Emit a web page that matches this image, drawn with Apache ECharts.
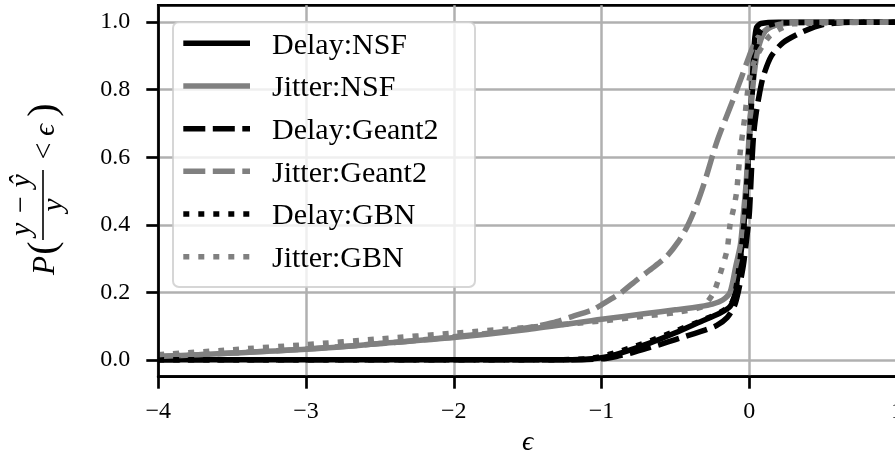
<!DOCTYPE html>
<html>
<head>
<meta charset="utf-8">
<script src="https://cdn.jsdelivr.net/npm/echarts@6/dist/echarts.min.js"></script>
<style>
  html, body { margin: 0; padding: 0; background: #ffffff; }
  #chart { width: 895px; height: 457px; }
</style>
</head>
<body>
<div id="chart"></div>
<script>
// Empirical CDF of the relative prediction error, one pair of arrays per curve.
const seriesNames = ['Delay:NSF', 'Jitter:NSF', 'Delay:Geant2', 'Jitter:Geant2', 'Delay:GBN', 'Jitter:GBN'];

const epsDelayNSF = [-4, -1.3, -1.1, -1.0, -0.9, -0.8, -0.67, -0.5, -0.33, -0.2, -0.13, -0.1, -0.07, -0.04, -0.02, 0, 0.02, 0.035, 0.05, 0.08, 0.2, 1];
const cdfDelayNSF = [0, 0, 0.002, 0.006, 0.016, 0.03, 0.05, 0.08, 0.113, 0.138, 0.158, 0.19, 0.27, 0.38, 0.5, 0.65, 0.82, 0.94, 0.985, 0.996, 1, 1];

const epsJitterNSF = [-4, -3.5, -3, -2.5, -2, -1.5, -1, -0.7, -0.5, -0.33, -0.25, -0.18, -0.13, -0.09, -0.06, -0.04, -0.02, 0, 0.02, 0.05, 0.08, 0.12, 0.2, 0.35, 1];
const cdfJitterNSF = [0.01, 0.02, 0.031, 0.048, 0.066, 0.09, 0.12, 0.137, 0.148, 0.158, 0.165, 0.177, 0.2, 0.28, 0.34, 0.43, 0.53, 0.67, 0.79, 0.9, 0.95, 0.978, 0.993, 0.999, 1];

const epsDelayGeant2 = [-4, -1.2, -1.0, -0.9, -0.8, -0.7, -0.6, -0.5, -0.4, -0.3, -0.22, -0.15, -0.1, -0.07, -0.04, -0.02, 0, 0.015, 0.03, 0.05, 0.07, 0.095, 0.15, 0.23, 0.37, 0.5, 0.7, 1];
const cdfDelayGeant2 = [0, 0, 0.003, 0.01, 0.02, 0.033, 0.046, 0.06, 0.074, 0.088, 0.102, 0.125, 0.16, 0.21, 0.28, 0.35, 0.43, 0.56, 0.67, 0.74, 0.79, 0.84, 0.9, 0.94, 0.973, 0.993, 1, 1];

const epsJitterGeant2 = [-4, -3.5, -3, -2.5, -2, -1.7, -1.5, -1.33, -1.2, -1.06, -1, -0.87, -0.76, -0.66, -0.56, -0.48, -0.42, -0.36, -0.3, -0.22, -0.11, -0.05, 0, 0.05, 0.12, 0.2, 0.3, 1];
const cdfJitterGeant2 = [0.01, 0.02, 0.032, 0.048, 0.068, 0.082, 0.095, 0.11, 0.128, 0.148, 0.163, 0.198, 0.237, 0.27, 0.306, 0.35, 0.395, 0.455, 0.53, 0.645, 0.77, 0.84, 0.9, 0.95, 0.98, 0.995, 1, 1];

const epsDelayGBN = [-4, -1.3, -1.1, -1.0, -0.9, -0.8, -0.67, -0.5, -0.33, -0.2, -0.13, -0.1, -0.07, -0.04, -0.02, 0, 0.02, 0.04, 0.07, 0.1, 0.2, 1];
const cdfDelayGBN = [0, 0, 0.003, 0.01, 0.022, 0.036, 0.056, 0.085, 0.115, 0.14, 0.16, 0.19, 0.27, 0.38, 0.5, 0.64, 0.79, 0.9, 0.97, 0.985, 0.998, 1];

const epsJitterGBN = [-4, -3.5, -3, -2.5, -2, -1.5, -1, -0.7, -0.5, -0.33, -0.29, -0.24, -0.2, -0.15, -0.13, -0.1, -0.085, -0.06, -0.03, 0, 0.04, 0.09, 0.14, 0.2, 0.3, 1];
const cdfJitterGBN = [0.015, 0.03, 0.045, 0.062, 0.079, 0.096, 0.115, 0.13, 0.14, 0.155, 0.168, 0.2, 0.25, 0.326, 0.4, 0.46, 0.5, 0.62, 0.72, 0.83, 0.89, 0.93, 0.96, 0.978, 0.995, 1];

const epsValues = [epsDelayNSF, epsJitterNSF, epsDelayGeant2, epsJitterGeant2, epsDelayGBN, epsJitterGBN];
const cdfValues = [cdfDelayNSF, cdfJitterNSF, cdfDelayGeant2, cdfJitterGeant2, cdfDelayGBN, cdfJitterGBN];

// Axis ranges and tick steps
const xMin = -4, xMax = 1, xStep = 1;
const yTickMin = 0, yTickMax = 1, yTickStep = 0.2;
const yMin = -0.05, yMax = 1.05;

// Styles
const SERIF = '"Liberation Serif", "DejaVu Serif", serif';
const lineColors = ['#000000', '#808080', '#000000', '#808080', '#000000', '#808080'];
const lineDashes = ['solid', 'solid', [22, 7.5], [22, 7.5], [6, 9], [6, 9]];
const LINE_W = 5.5;
const SPINE_W = 2.7;
const GRID_COLOR = '#b0b0b0';

// Plot-area placement (px)
const W = 895, H = 457;
const GRID_LEFT = 158.3, GRID_TOP = 5.3, GRID_BOTTOM = 80.3, GRID_RIGHT = -2;
const pxPerY = (H - GRID_TOP - GRID_BOTTOM) / (yMax - yMin);
const tickGridTop = GRID_TOP + (yMax - yTickMax) * pxPerY;
const tickGridBottom = GRID_BOTTOM + (yTickMin - yMin) * pxPerY;

const minusFmt = v => String(v).replace('-', '\u2212');

const series = seriesNames.map((name, i) => ({
  name: name,
  type: 'line',
  xAxisIndex: 0,
  yAxisIndex: 0,
  data: epsValues[i].map((e, k) => [e, cdfValues[i][k]]),
  showSymbol: false,
  symbol: 'none',
  smooth: 0.25,
  lineStyle: {
    color: lineColors[i],
    width: LINE_W,
    type: lineDashes[i],
    cap: 'butt',
    join: 'round'
  },
  z: 2,
  animation: false
}));

// Legend box drawn as graphic elements
const LEG_X = 173, LEG_Y = 22, LEG_W = 302, LEG_H = 265;
const LEG_ROW0 = 43.3, LEG_ROW_STEP = 42.68;
const LEG_Z = 20;
const legendChildren = [{
  type: 'rect',
  z: LEG_Z,
  shape: { x: LEG_X, y: LEG_Y, width: LEG_W, height: LEG_H, r: 6 },
  style: { fill: 'rgba(255,255,255,0.8)', stroke: 'rgba(204,204,204,0.8)', lineWidth: 2 }
}];
seriesNames.forEach((name, i) => {
  const ry = LEG_ROW0 + i * LEG_ROW_STEP;
  legendChildren.push({
    type: 'line',
    z: LEG_Z + 1,
    shape: { x1: 183.3, y1: ry, x2: 250, y2: ry },
    style: {
      stroke: lineColors[i],
      lineWidth: LINE_W,
      lineDash: lineDashes[i] === 'solid' ? null : lineDashes[i],
      lineCap: 'butt'
    }
  });
  legendChildren.push({
    type: 'text',
    z: LEG_Z + 1,
    x: 272,
    y: ry + 2.5,
    style: {
      text: name,
      font: '30px ' + SERIF,
      fill: '#000',
      textAlign: 'left',
      textVerticalAlign: 'middle'
    }
  });
});

// Rotated y-axis title: P((y - ŷ)/y < ϵ)
const mathFont = s => 'italic ' + s + 'px ' + SERIF;
const romanFont = s => s + 'px ' + SERIF;
const tx = (x, y, text, font, align) => ({
  type: 'text', x: x, y: y, z: LEG_Z,
  style: { text: text, font: font, fill: '#000', textAlign: align || 'center', textVerticalAlign: 'middle' }
});
const yTitle = {
  type: 'group',
  x: 45,
  y: 190,
  rotation: Math.PI / 2,
  children: [
    tx(-66, 0.8, 'P', mathFont(31), 'right'),
    tx(-58, -1, '(', romanFont(40)),
    { type: 'rect', z: LEG_Z, shape: { x: -50, y: -2.8, width: 70, height: 1.6 }, style: { fill: '#000' } },
    tx(-15, -22.5, 'y \u2212 \u0177', mathFont(30)),
    tx(-15, 9.5, 'y', mathFont(30)),
    tx(39, 0, '<', romanFont(30)),
    tx(60, 0.8, '\u03f5', mathFont(30)),
    tx(80, -1, ')', romanFont(40))
  ]
};

const option = {
  animation: false,
  backgroundColor: '#ffffff',
  grid: [
    {
      left: GRID_LEFT, right: GRID_RIGHT, top: GRID_TOP, bottom: GRID_BOTTOM,
      show: true, borderColor: '#000', borderWidth: SPINE_W, backgroundColor: 'transparent',
      containLabel: false, outerBoundsMode: 'none'
    },
    {
      left: GRID_LEFT, right: GRID_RIGHT, top: tickGridTop, bottom: tickGridBottom,
      show: false, containLabel: false, outerBoundsMode: 'none'
    }
  ],
  xAxis: [
    {
      gridIndex: 0, type: 'value', min: xMin, max: xMax, interval: xStep,
      name: '\u03f5', nameLocation: 'middle', nameGap: 46,
      nameTextStyle: { fontFamily: SERIF, fontStyle: 'italic', fontSize: 28, color: '#000' },
      axisLine: { show: true, onZero: false, lineStyle: { color: '#000', width: SPINE_W } },
      axisTick: { show: true, inside: false, length: 12, lineStyle: { color: '#000', width: SPINE_W } },
      axisLabel: { show: true, margin: 23, fontFamily: SERIF, fontSize: 24, color: '#000', formatter: minusFmt, showMaxLabel: true, showMinLabel: true, hideOverlap: false },
      splitLine: { show: true, lineStyle: { color: GRID_COLOR, width: 2.5 } },
      z: 0
    },
    {
      gridIndex: 1, type: 'value', min: xMin, max: xMax, interval: xStep, show: false
    }
  ],
  yAxis: [
    {
      gridIndex: 0, type: 'value', min: yMin, max: yMax,
      axisLine: { show: true, onZero: false, lineStyle: { color: '#000', width: SPINE_W } },
      axisTick: { show: false },
      axisLabel: { show: false },
      splitLine: { show: false },
      z: 3
    },
    {
      gridIndex: 1, type: 'value', min: yTickMin, max: yTickMax, interval: yTickStep,
      axisLine: { show: false, onZero: false },
      axisTick: { show: true, inside: false, length: 12, lineStyle: { color: '#000', width: SPINE_W } },
      axisLabel: { show: true, margin: 28, fontFamily: SERIF, fontSize: 24, color: '#000', formatter: v => v.toFixed(1) },
      splitLine: { show: true, lineStyle: { color: GRID_COLOR, width: 2.5 } },
      z: 0
    }
  ],
  series: series,
  graphic: [
    { type: 'group', children: legendChildren },
    yTitle
  ]
};

const chart = echarts.init(document.getElementById('chart'), null, { renderer: 'canvas' });
chart.setOption(option);
</script>
</body>
</html>
